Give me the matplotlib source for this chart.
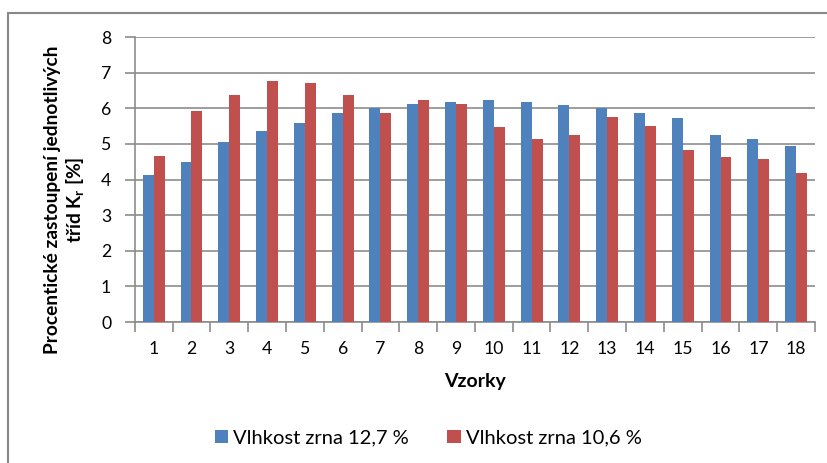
import numpy as np
import matplotlib
matplotlib.use("Agg")
import matplotlib.pyplot as plt
from matplotlib.patches import Rectangle

plt.rcParams['font.family'] = ['Lato', 'DejaVu Sans']

# Data
vzorky = [str(i) for i in range(1, 19)]
vlhkost_127 = [4.13, 4.50, 5.05, 5.37, 5.59, 5.87, 6.00, 6.13, 6.19,
               6.23, 6.19, 6.08, 6.01, 5.87, 5.73, 5.24, 5.13, 4.93]
vlhkost_106 = [4.65, 5.91, 6.36, 6.77, 6.70, 6.36, 5.87, 6.23, 6.13,
               5.48, 5.13, 5.24, 5.76, 5.51, 4.82, 4.63, 4.59, 4.17]
labels = ['Vlhkost zrna 12,7 %', 'Vlhkost zrna 10,6 %']

blue = '#4F81BD'
red = '#C0504D'
grid_col = '#8C8C8C'

fig = plt.figure(figsize=(8.27, 4.63), dpi=100)
ax = fig.add_axes([0.163, 0.3045, 0.8225, 0.6155])

x = np.arange(len(vzorky))
w = 0.29
b1 = ax.bar(x - w / 2, vlhkost_127, w, color=blue, label=labels[0], zorder=3)
b2 = ax.bar(x + w / 2, vlhkost_106, w, color=red, label=labels[1], zorder=3)

ax.set_xlim(-0.5, len(vzorky) - 0.5)
ax.set_ylim(0, 8)
ax.set_yticks(range(0, 9))
ax.yaxis.grid(True, color=grid_col, linewidth=1.2, zorder=0)
ax.set_axisbelow(True)

# category labels centred, ticks on category boundaries
ax.set_xticks(x)
ax.set_xticklabels(vzorky)
ax.set_xticks(np.arange(-0.5, len(vzorky)), minor=True)
ax.tick_params(axis='x', which='major', length=0, pad=14, labelsize=12.7)
ax.tick_params(axis='x', which='minor', length=7, color=grid_col, width=1.2)
ax.tick_params(axis='y', length=7, color=grid_col, width=1.2, pad=10, labelsize=12.7)

for s in ['top', 'right']:
    ax.spines[s].set_visible(False)
for s in ['left', 'bottom']:
    ax.spines[s].set_color(grid_col)
    ax.spines[s].set_linewidth(1.2)

ax.set_xlabel('Vzorky', fontsize=14, fontweight='bold', labelpad=11)
ax.set_ylabel('Procentické zastoupení jednotlivých\ntříd K$_\\mathregular{r}$ [%]',
              fontsize=13.8, fontweight='bold', linespacing=1.2)
ax.yaxis.set_label_coords(-0.07, 0.43)

fig.legend(handles=[b1, b2], labels=labels, loc='center', bbox_to_anchor=(0.518, 0.054),
           ncol=2, frameon=False, fontsize=14.5, handlelength=0.65, handleheight=0.65,
           handletextpad=0.25, columnspacing=1.9)

# outer chart frame (cropped at right and bottom)
fig.patches.append(Rectangle((8 / 827, -0.1), 1.2, 1.1 - 13 / 463,
                             transform=fig.transFigure, fill=False,
                             edgecolor='#888888', linewidth=1.5))

fig.savefig('out.png', dpi=100)
